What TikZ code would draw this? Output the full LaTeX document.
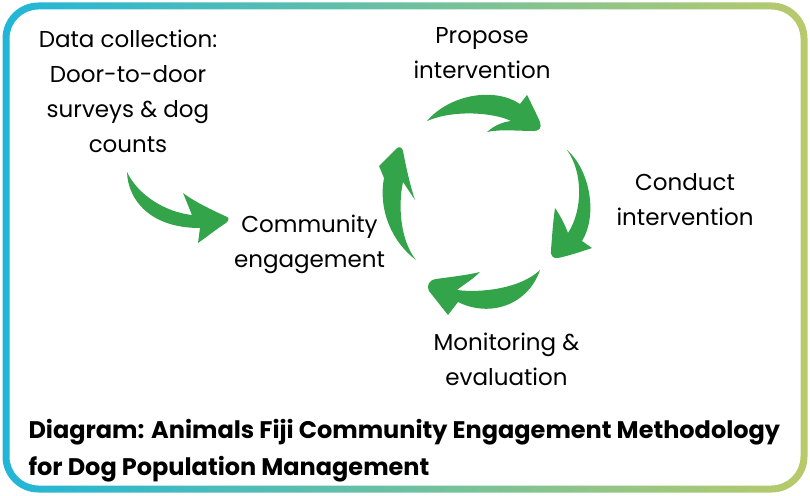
\documentclass[tikz,border=0pt]{standalone}
\usepackage{fontspec}
\setmainfont{Poppins}
\definecolor{arrowgreen}{RGB}{51,164,74}
\definecolor{bordL}{RGB}{33,182,216}
\definecolor{bordR}{RGB}{184,202,106}
\begin{document}
\begin{tikzpicture}[x=1pt,y=-1pt,
  lbl/.style={align=center, font=\fontsize{23}{35}\selectfont, text=black, inner sep=0pt, anchor=base},
  ttl/.style={align=left, font=\fontsize{24}{37}\selectfont\bfseries, text=black, inner sep=0pt, anchor=base west},
  arr/.style={fill=arrowgreen}]
\useasboundingbox (0,0) rectangle (810,495);
% gradient frame
\shade[left color=bordL, right color=bordR, even odd rule, rounded corners=36pt]
  (2.5,2.5) rectangle (807.5,492.5) [rounded corners=29pt] (9.5,9.5) rectangle (800.5,485.5);

% labels (anchor = baseline of the last line)
\node[lbl] (data) at (128,152) {Data collection:\\Door-to-door\\surveys \& dog\\counts};
\node[lbl] (propose) at (482,78.3) {Propose\\intervention};
\node[lbl] (conduct) at (685,225) {Conduct\\intervention};
\node[lbl] (monitor) at (506.5,385) {Monitoring \&\\evaluation};
\node[lbl] (community) at (309.5,267) {Community\\engagement};
\node[ttl] (title) at (28.3,475) {Diagram: Animals Fiji Community Engagement Methodology\\for Dog Population Management};

% data collection arrow
\fill[arr] (127,172) .. controls (128,200) and (150,228) .. (200,228)
  -- (198,243)
  .. controls (208,236) and (218,228) .. (226,223)
  .. controls (230,220) and (229,217) .. (225,216)
  .. controls (212,210) and (195,202) .. (183,193)
  .. controls (186,200) and (189,208) .. (192,215)
  .. controls (165,212) and (138,195) .. (127,172) -- cycle;

% top arrow
\fill[arr] (427,121) .. controls (450,94) and (495,87) .. (520,104)
  -- (527,95)
  .. controls (532,105) and (537,115) .. (540,122)
  .. controls (542,128) and (539,131) .. (534,131)
  .. controls (518,131) and (500,129) .. (487,132)
  .. controls (495,125) and (503,122) .. (511,121)
  .. controls (495,113) and (455,109) .. (427,121) -- cycle;

% right arrow
\fill[arr] (567,150) .. controls (590,170) and (598,215) .. (582,241)
  -- (592,248)
  .. controls (580,252) and (568,256) .. (558,258)
  .. controls (553,259) and (550,255) .. (551,250)
  .. controls (552,237) and (553,222) .. (555,208)
  .. controls (560,215) and (565,225) .. (568,233)
  .. controls (583,210) and (583,172) .. (567,150) -- cycle;

% bottom arrow
\fill[arr] (540,270) .. controls (528,305) and (490,318) .. (458,302)
  -- (448,315)
  .. controls (440,305) and (433,296) .. (429,291)
  .. controls (426,286) and (429,280) .. (436,279)
  .. controls (450,277) and (468,275) .. (480,272)
  .. controls (472,280) and (463,285) .. (457,290)
  .. controls (480,293) and (520,289) .. (540,270) -- cycle;

% left arrow
\fill[arr] (416,260) .. controls (392,242) and (378,210) .. (384,178)
  -- (379,166)
  .. controls (385,160) and (391,154) .. (396,149)
  .. controls (399,146) and (402,147) .. (403,151)
  .. controls (406,167) and (410,185) .. (415,200)
  .. controls (411,194) and (407,188) .. (403,182)
  .. controls (398,205) and (400,240) .. (416,260) -- cycle;
\end{tikzpicture}
\end{document}
